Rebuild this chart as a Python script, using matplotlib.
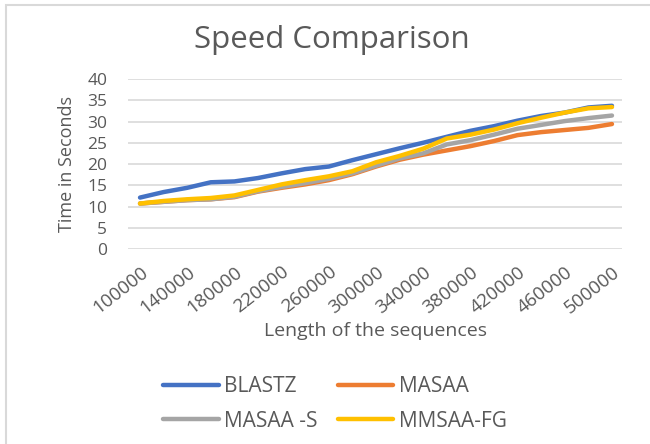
import matplotlib.pyplot as plt
from matplotlib.patches import Rectangle

plt.rcParams['font.family'] = ['Open Sans', 'DejaVu Sans']

lengths = list(range(100000, 500001, 20000))
blastz = [12.1, 13.4, 14.4, 15.7, 15.9, 16.7, 17.8, 18.8, 19.4, 20.9, 22.3,
          23.7, 25.0, 26.4, 27.8, 28.9, 30.2, 31.3, 32.1, 33.3, 33.7]
masaa = [10.7, 11.1, 11.5, 11.7, 12.2, 13.5, 14.4, 15.2, 16.2, 17.6, 19.4,
         21.0, 22.2, 23.2, 24.2, 25.4, 26.8, 27.5, 28.0, 28.5, 29.4]
masaa_s = [10.7, 11.1, 11.5, 11.7, 12.3, 13.6, 14.6, 15.5, 16.5, 17.8, 19.6,
           21.3, 22.5, 24.6, 25.6, 26.9, 28.3, 29.2, 30.1, 30.8, 31.4]
mmsaa_fg = [10.7, 11.3, 11.7, 12.0, 12.6, 13.9, 15.2, 16.2, 17.1, 18.3, 20.4,
            21.9, 23.6, 26.0, 26.9, 28.1, 29.6, 30.9, 32.1, 33.1, 33.4]
xticks = list(range(100000, 500001, 40000))

grey = '#595959'

fig = plt.figure(figsize=(6.5, 4.44), dpi=100)
fig.patches.append(Rectangle((6 / 650, -0.1), 1.2, 1 - 5 / 444 + 0.1,
                             transform=fig.transFigure, fill=False,
                             edgecolor='#d9d9d9', linewidth=1.5))

ax = fig.add_axes([128 / 650, 1 - 249 / 444, (622 - 128) / 650, (249 - 79) / 444])
l1, = ax.plot(lengths, blastz, color='#4472c4', lw=3.2, label='BLASTZ', solid_capstyle='round')
l2, = ax.plot(lengths, masaa, color='#ed7d31', lw=3.2, label='MASAA', solid_capstyle='round')
l3, = ax.plot(lengths, masaa_s, color='#a5a5a5', lw=3.2, label='MASAA -S', solid_capstyle='round')
l4, = ax.plot(lengths, mmsaa_fg, color='#ffc000', lw=3.2, label='MMSAA-FG', solid_capstyle='round')

ax.set_ylim(0, 40)
ax.set_xlim(100000 - 10200, 500000 + 8500)
ax.set_yticks(range(0, 41, 5))
ax.set_xticks(xticks)
ax.set_xticklabels([str(t) for t in xticks], rotation=38, ha='right',
                   rotation_mode='anchor')
ax.tick_params(axis='both', length=0, labelsize=12.5, colors=grey)
ax.tick_params(axis='x', labelsize=13.5, pad=10)
ax.tick_params(axis='y', pad=15)
ax.grid(axis='y', color='#d9d9d9', lw=1.2)
ax.set_axisbelow(True)
for s in ax.spines.values():
    s.set_visible(False)

ax.set_ylabel('Time in Seconds', fontsize=13, color=grey, labelpad=8)
ax.set_xlabel('Length of the sequences', fontsize=14, color=grey, labelpad=4)
fig.text(332 / 650, 1 - 40 / 444, 'Speed Comparison', fontsize=22.5,
         color=grey, ha='center', va='center')

fig.legend([l1, l3, l2, l4], ['BLASTZ', 'MASAA -S', 'MASAA', 'MMSAA-FG'],
           loc='center', bbox_to_anchor=(335 / 650, 1 - 404 / 444), ncol=2,
           frameon=False, fontsize=15, handlelength=2.65, handletextpad=0.25,
           columnspacing=1.0, labelspacing=0.65, labelcolor=grey)

fig.savefig('out.png', dpi=100)
